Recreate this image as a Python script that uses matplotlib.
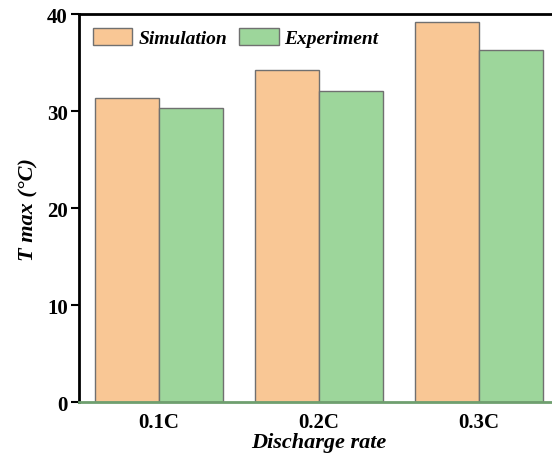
import matplotlib
matplotlib.use('Agg')
import matplotlib.pyplot as plt
import numpy as np

rates = ['0.1C', '0.2C', '0.3C']
simulation = [31.3, 34.2, 39.2]
experiment = [30.3, 32.1, 36.3]

plt.rcParams['font.family'] = ['Liberation Serif', 'DejaVu Serif']

x = np.arange(len(rates))
width = 0.4

fig = plt.figure(figsize=(5.52, 4.56), dpi=100)
ax = fig.add_axes([0.143, 0.116, 1.013 - 0.143, 0.851])

ax.bar(x - width/2, simulation, width, color='#F9C795', edgecolor='#707070',
       linewidth=1.0, label='Simulation')
ax.bar(x + width/2, experiment, width, color='#9DD69B', edgecolor='#707070',
       linewidth=1.0, label='Experiment')

ax.set_xlim(-0.5, 2.5)
ax.set_ylim(0, 40)
ax.set_yticks([0, 10, 20, 30, 40])
ax.set_xticks(x)
ax.set_xticklabels(rates)

ax.spines['right'].set_visible(False)
ax.spines['left'].set_linewidth(2)
ax.spines['top'].set_linewidth(2)
ax.spines['bottom'].set_linewidth(2)
ax.spines['bottom'].set_color('#6f9f6f')

ax.tick_params(axis='y', direction='out', length=6, width=1.5, labelsize=15, pad=2)
ax.tick_params(axis='x', length=0, labelsize=15, pad=7)
for lbl in ax.get_xticklabels() + ax.get_yticklabels():
    lbl.set_fontweight('bold')

ax.set_xlabel('Discharge rate', fontsize=16, fontweight='bold', style='italic', labelpad=0)
ax.set_ylabel('T max (°C)', fontsize=16, fontweight='bold', style='italic', labelpad=6)

ax.legend(loc='upper left', ncol=2, frameon=False, handlelength=2.05, handleheight=1.0,
          columnspacing=0.6, handletextpad=0.3, borderaxespad=0.3,
          prop={'size': 14, 'weight': 'bold', 'style': 'italic'})

fig.savefig('out.png', dpi=100)
